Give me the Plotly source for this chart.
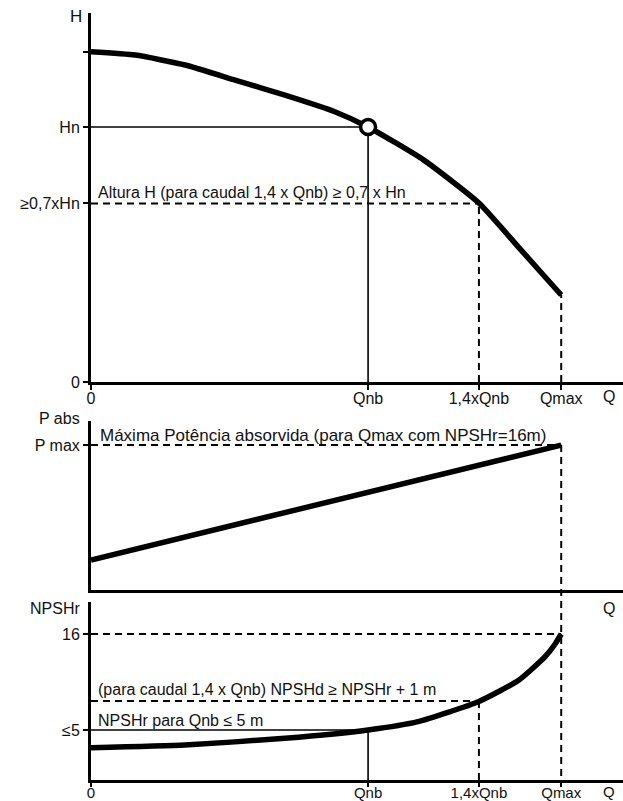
import plotly.graph_objects as go

# ---------------- data (schematic units) ----------------
q_tick_vals = [0, 1.0, 1.4, 1.697]
q_tick_text = ["0", "Qnb", "1,4xQnb", "Qmax"]
Q_NB = 1.0
Q_14 = 1.4
Q_MAX = 1.697

# H-Q curve (H relative to Hn)
h_q = [0, 0.16, 0.34, 0.52, 0.70, 0.88, 1.0, 1.2, 1.4, 1.55, 1.697]
h_val = [1.295, 1.282, 1.243, 1.184, 1.125, 1.060, 1.0, 0.871, 0.702, 0.52, 0.341]
H_N = 1.0
H_07 = 0.7
h_tick_vals = [0, 0.7, 1.0, 1.295]
h_tick_text = ["0", "≥0,7xHn", "Hn", ""]

# Absorbed power (relative to P max)
p_q = [0, 1.697]
p_val = [0.207, 1.0]
P_MAX = 1.0
p_tick_vals = [1.0]
p_tick_text = ["P max"]

# NPSHr curve (schematic scale)
npsh_q = [0, 0.339, 0.70, 1.0, 1.18, 1.4, 1.545, 1.639, 1.675, 1.697]
npsh_val = [3.23, 3.5, 4.17, 5.0, 5.83, 7.85, 10.0, 12.33, 13.6, 14.6]
NPSH_5 = 5.0
NPSH_14 = 7.9
NPSH_16 = 14.6
n_tick_vals = [5.0, 14.6]
n_tick_text = ["≤5", "16"]

# ---------------- layout helpers ----------------
W, H = 623, 801
FONT = "Liberation Sans, Arial, sans-serif"
TXT = "#111111"
FS = 16

def px(x):
    return x / W

def py(y):
    return 1 - y / H

fig = go.Figure()

thick = dict(color="black", width=5.5)
thin = dict(color="black", width=1.6)
dash = dict(color="black", width=2, dash="7px,5px")

# ---- top panel (x, y) ----
fig.add_trace(go.Scatter(x=[0, Q_NB], y=[H_N, H_N], mode="lines", line=thin, xaxis="x", yaxis="y"))
fig.add_trace(go.Scatter(x=[Q_NB, Q_NB], y=[0, H_N], mode="lines", line=thin, xaxis="x", yaxis="y"))
fig.add_trace(go.Scatter(x=[0, Q_14], y=[H_07, H_07], mode="lines", line=dash, xaxis="x", yaxis="y"))
fig.add_trace(go.Scatter(x=[Q_14, Q_14], y=[0, H_07], mode="lines", line=dash, xaxis="x", yaxis="y"))
fig.add_trace(go.Scatter(x=[Q_MAX, Q_MAX], y=[0, h_val[-1]], mode="lines", line=dash, xaxis="x", yaxis="y"))
fig.add_trace(go.Scatter(x=h_q, y=h_val, mode="lines",
                         line=dict(color="black", width=5.5, shape="spline", smoothing=0.5),
                         xaxis="x", yaxis="y"))
fig.add_trace(go.Scatter(x=[Q_NB], y=[H_N], mode="markers",
                         marker=dict(symbol="circle", size=15, color="white", line=dict(color="black", width=3.5)),
                         xaxis="x", yaxis="y"))

# ---- middle panel (x2, y2) ----
fig.add_trace(go.Scatter(x=[0, Q_MAX], y=[P_MAX, P_MAX], mode="lines", line=dash, xaxis="x2", yaxis="y2"))
fig.add_trace(go.Scatter(x=p_q, y=p_val, mode="lines", line=thick, xaxis="x2", yaxis="y2"))

# ---- bottom panel (x3, y3) ----
fig.add_trace(go.Scatter(x=[0, Q_MAX], y=[NPSH_16, NPSH_16], mode="lines", line=dash, xaxis="x3", yaxis="y3"))
fig.add_trace(go.Scatter(x=[0, Q_14], y=[NPSH_14, NPSH_14], mode="lines", line=dash, xaxis="x3", yaxis="y3"))
fig.add_trace(go.Scatter(x=[Q_14, Q_14], y=[0, NPSH_14], mode="lines", line=dash, xaxis="x3", yaxis="y3"))
fig.add_trace(go.Scatter(x=[0, Q_NB], y=[NPSH_5, NPSH_5], mode="lines", line=thin, xaxis="x3", yaxis="y3"))
fig.add_trace(go.Scatter(x=[Q_NB, Q_NB], y=[0, NPSH_5], mode="lines", line=thin, xaxis="x3", yaxis="y3"))
fig.add_trace(go.Scatter(x=npsh_q, y=npsh_val, mode="lines",
                         line=dict(color="black", width=5.5, shape="spline", smoothing=0.5),
                         xaxis="x3", yaxis="y3"))

# long dashed Qmax line through middle & bottom panels
fig.add_shape(type="line", xref="x3", yref="paper", x0=Q_MAX, x1=Q_MAX,
              y0=py(445), y1=py(780), line=dash)

x_dom = [px(91), 1]
x_rng = [0, 1.92]
tickfont = dict(family=FONT, size=FS, color=TXT)

def xaxis(anchor, show_ticks, ticklen=5, standoff=-5, fsize=FS):
    d = dict(domain=x_dom, range=x_rng, anchor=anchor, showline=True, linewidth=3, linecolor="black",
             showgrid=False, zeroline=False, fixedrange=True, automargin=False,
             tickfont=dict(family=FONT, size=fsize, color=TXT))
    if show_ticks:
        d.update(tickmode="array", tickvals=q_tick_vals, ticktext=q_tick_text, ticks="outside",
                 ticklen=ticklen, tickwidth=1.5, tickcolor="black", ticklabelstandoff=standoff)
    else:
        d.update(showticklabels=False, ticks="")
    return d

def yaxis(anchor, dom, rng, tv, tt):
    return dict(domain=dom, range=rng, anchor=anchor, showline=True, linewidth=3, linecolor="black",
                showgrid=False, zeroline=False, fixedrange=True, tickmode="array", tickvals=tv,
                ticktext=tt, ticks="outside", ticklen=5, tickwidth=1.5, tickcolor="black",
                tickfont=tickfont, automargin=False)

fig.update_layout(
    width=W, height=H,
    margin=dict(l=0, r=0, t=0, b=0, pad=0),
    paper_bgcolor="white", plot_bgcolor="white",
    showlegend=False,
    font=dict(family=FONT, size=FS, color=TXT),
    xaxis=xaxis("y", True),
    yaxis=yaxis("x", [py(382), py(13)], [0, 1.447], h_tick_vals, h_tick_text),
    xaxis2=xaxis("y2", False),
    yaxis2=yaxis("x2", [py(590), py(421)], [0, 1.166], p_tick_vals, p_tick_text),
    xaxis3=xaxis("y3", True, ticklen=4, standoff=-7, fsize=15),
    yaxis3=yaxis("x3", [py(780), py(602)], [0, 17.8], n_tick_vals, n_tick_text),
)

def label(text, x, y, xanchor="left", yanchor="middle", size=FS):
    fig.add_annotation(text=text, x=px(x), y=py(y), xref="paper", yref="paper", xanchor=xanchor,
                       yanchor=yanchor, showarrow=False, font=dict(family=FONT, size=size, color=TXT))

label("H", 84, 16, xanchor="right", size=17)
label("Q", 609, 396, xanchor="center")
label("Altura H (para caudal 1,4 x Qnb) ≥ 0,7 x Hn", 96, 192)
label("P abs", 82, 419, xanchor="right")
label("Máxima Potência absorvida (para Qmax com NPSHr=16m)", 98, 435, size=17)
label("NPSHr", 82, 608, xanchor="right")
label("Q", 609, 608, xanchor="center")
label("(para caudal 1,4 x Qnb) NPSHd ≥ NPSHr + 1 m", 96, 689)
label("NPSHr para Qnb ≤ 5 m", 96, 720)
label("Q", 609, 791, xanchor="center", size=15)

fig.write_html("out.html", config={"displayModeBar": False},
               post_script="document.body.style.margin='0';document.body.style.overflow='hidden';")
